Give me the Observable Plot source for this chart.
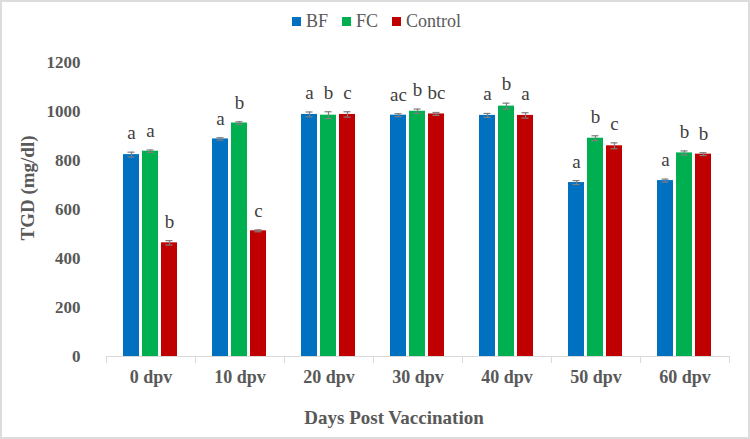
<!DOCTYPE html>
<html>
<head>
<meta charset="utf-8">
<script src="https://cdn.jsdelivr.net/npm/d3@7"></script>
<script src="https://cdn.jsdelivr.net/npm/@observablehq/plot@0.6"></script>
<style>
  body { margin: 0; background: white; }
  #wrap { position: relative; width: 750px; height: 439px; overflow: hidden; font-family: "Times New Roman", "Liberation Serif", Times, serif; }
  #border { position: absolute; inset: 0; border: 2px solid #dcdcdc; pointer-events: none; }
  #legend { height: 42px; display: flex; align-items: center; padding-left: 292px; font-size: 18px; color: #595959; }
  #legend span.sw { display: inline-block; width: 9px; height: 9px; margin-right: 5px; }
  #legend span.lab { margin-right: 14px; }
  .title { position: absolute; font-weight: bold; font-size: 19px; color: #595959; white-space: nowrap; }
  #chart svg, #chart svg text { font-family: "Times New Roman", "Liberation Serif", Times, serif !important; }
</style>
</head>
<body>
<div id="wrap">
  <div id="legend"></div>
  <div id="chart"></div>
  <div class="title" id="ytitle" style="left:28px; top:188px; transform: translate(-50%,-50%) rotate(-90deg);">TGD (mg/dl)</div>
  <div class="title" id="xtitle" style="left:394px; top:418px; transform: translate(-50%,-50%);">Days Post Vaccination</div>
  <div id="border"></div>
</div>
<script>
const days = ["0 dpv", "10 dpv", "20 dpv", "30 dpv", "40 dpv", "50 dpv", "60 dpv"];
const series = ["BF", "FC", "Control"];
const colors = ["#0070C0", "#00B050", "#C00000"];

const bf = [824, 888, 988, 985, 984, 710, 718];
const fc = [838, 953, 985, 1001, 1022, 891, 831];
const control = [464, 513, 988, 990, 984, 860, 826];

const bfErr = [10, 5, 10, 6, 8, 8, 6];
const fcErr = [5, 5, 14, 9, 12, 10, 8];
const controlErr = [9, 4, 11, 6, 11, 12, 6];

const bfLetters = ["a", "a", "a", "ac", "a", "a", "a"];
const fcLetters = ["a", "b", "b", "b", "b", "b", "b"];
const controlLetters = ["b", "c", "c", "bc", "a", "c", "b"];

const yTicks = [0, 200, 400, 600, 800, 1000, 1200];

// build a long table from the arrays
const values = [bf, fc, control];
const errs = [bfErr, fcErr, controlErr];
const letters = [bfLetters, fcLetters, controlLetters];
const data = [];
days.forEach((day, i) => {
  series.forEach((s, j) => {
    data.push({day, series: s, value: values[j][i], err: errs[j][i], letter: letters[j][i]});
  });
});

// legend
const legend = d3.select("#legend");
series.forEach((s, j) => {
  legend.append("span").attr("class", "sw").style("background", colors[j]);
  legend.append("span").attr("class", "lab").text(s);
});

const grey = "#595959";
const serif = "'Times New Roman', 'Liberation Serif', serif";

const chart = Plot.plot({
  width: 750,
  height: 397,
  marginTop: 20,
  marginBottom: 77,
  marginLeft: 104,
  marginRight: 20,
  style: {background: "white", fontFamily: serif},
  fx: {
    domain: days,
    padding: 0,
    label: null,
    axis: null
  },
  x: {
    domain: series,
    paddingInner: 0.15,
    paddingOuter: 0.81,
    axis: null
  },
  y: {
    domain: [-24.5, 1200],
    axis: null
  },
  color: {domain: series, range: colors},
  marks: [
    Plot.ruleY([0], {stroke: "#d9d9d9", strokeWidth: 1.2}),
    Plot.frame({anchor: "left", stroke: "#d9d9d9", insetTop: 294}),
    Plot.frame({anchor: "right", stroke: "#d9d9d9", insetTop: 294}),
    Plot.barY(data, {fx: "day", x: "series", y: "value", fill: "series"}),
    Plot.ruleX(data, {fx: "day", x: "series", y1: d => d.value - d.err, y2: d => d.value + d.err, stroke: "#7f7f7f", strokeWidth: 1.2}),
    Plot.tickY(data, {fx: "day", x: "series", y: d => d.value - d.err, stroke: "#7f7f7f", strokeWidth: 1.2, insetLeft: 4.5, insetRight: 4.5}),
    Plot.tickY(data, {fx: "day", x: "series", y: d => d.value + d.err, stroke: "#7f7f7f", strokeWidth: 1.2, insetLeft: 4.5, insetRight: 4.5}),
    Plot.text(data, {
      fx: "day", x: "series", y: d => d.value + d.err, text: "letter",
      dy: -13, lineAnchor: "bottom", fontSize: 19, fontFamily: serif, fill: "#404040"
    }),
    Plot.axisFx({
      anchor: "bottom", tickSize: 0, tickPadding: 8,
      fontSize: 18, fontWeight: "bold", fontFamily: serif, fill: grey, label: null
    }),
    Plot.axisY(yTicks, {
      anchor: "left", tickSize: 0, tickPadding: 26, tickFormat: d3.format("d"),
      fontSize: 17, fontWeight: "bold", fontFamily: serif, fill: grey, label: null
    })
  ]
});

d3.select("#chart").append(() => chart);
</script>
</body>
</html>
